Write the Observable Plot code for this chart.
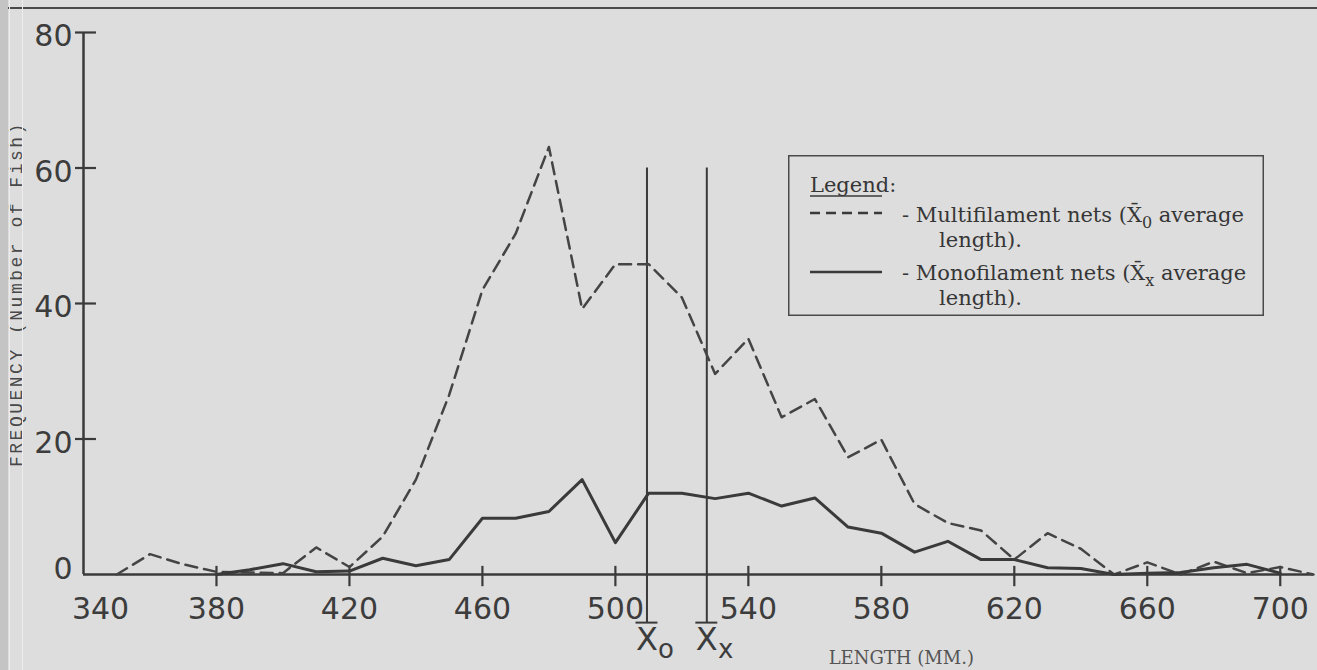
<!DOCTYPE html>
<html><head><meta charset="utf-8">
<script src="https://cdn.jsdelivr.net/npm/d3@7"></script>
<script src="https://cdn.jsdelivr.net/npm/@observablehq/plot@0.6"></script>
<style>
html,body{margin:0;padding:0;background:#dddddd;}
#wrap{position:relative;width:1317px;height:670px;overflow:hidden;background:#dddddd;}
#chart{position:absolute;left:0;top:0;}
#topRule{position:absolute;left:8px;top:7px;width:1309px;height:2px;background:#4a4a4a;}
#edge{position:absolute;left:0;top:0;width:8px;height:670px;background:#c4c4c4;}
#edgeLine1{position:absolute;left:9px;top:0;width:1px;height:670px;background:#ececec;}
#edgeLine2{position:absolute;left:22px;top:0;width:1px;height:670px;background:#ececec;}
#ylab{position:absolute;left:21px;top:467px;transform-origin:0 0;transform:rotate(-90deg);
  font-family:"Liberation Mono",monospace;font-size:18px;letter-spacing:2.5px;color:#484848;white-space:nowrap;line-height:1;}
#legend{position:absolute;left:788px;top:155px;}
</style></head>
<body><div id="wrap">
<div id="chart"></div>
<div id="topRule"></div>
<div id="ylab"><span style="position:relative;top:-13px">FREQUENCY (Number of Fish)</span></div>
<div id="edge"></div><div id="edgeLine1"></div><div id="edgeLine2"></div>
<svg id="legend" width="476" height="161" font-family="DejaVu Serif" font-size="21" fill="#363636">
  <rect x="0.75" y="0.75" width="474.5" height="159.5" fill="none" stroke="#4a4a4a" stroke-width="1.5"/>
  <text x="22" y="37">Legend:</text>
  <line x1="22" x2="94" y1="41" y2="41" stroke="#3a3a3a" stroke-width="1.3"/>
  <line x1="22" x2="94" y1="58" y2="58" stroke="#3a3a3a" stroke-width="2.5" stroke-dasharray="10,6"/>
  <text x="114" y="67">- Multifilament nets (X&#772;<tspan dy="6" font-size="16">0</tspan><tspan dy="-6"> average</tspan></text>
  <text x="151" y="92">length).</text>
  <line x1="22" x2="94" y1="117" y2="117" stroke="#3a3a3a" stroke-width="2.5"/>
  <text x="114" y="125">- Monofilament nets (X&#772;<tspan dy="6" font-size="16">x</tspan><tspan dy="-6"> average</tspan></text>
  <text x="151" y="150">length).</text>
</svg>
</div>
<script>
// Multifilament nets (dashed)
const multiLengths = [350,360,370,380,390,400,410,420,430,440,450,460,470,480,490,500,510,520,530,540,550,560,570,580,590,600,610,620,630,640,650,660,670,680,690,700,710];
const multiFreq    = [0,3.0,1.5,0.4,0.3,0.2,4.0,1.1,5.6,14,26.5,42,50.3,63.1,39.2,45.8,45.8,40.9,29.6,34.8,23.2,25.9,17.3,19.9,10.4,7.6,6.5,2.2,6.1,3.8,0,1.8,0,1.9,0.2,1.1,0];
// Monofilament nets (solid)
const monoLengths = [380,390,400,410,420,430,440,450,460,470,480,490,500,510,520,530,540,550,560,570,580,590,600,610,620,630,640,650,660,670,680,690,700];
const monoFreq    = [0,0.7,1.6,0.4,0.5,2.4,1.3,2.2,8.3,8.3,9.3,14.0,4.7,12.0,12.0,11.2,12.0,10.1,11.3,7.0,6.1,3.3,4.9,2.2,2.2,1.0,0.9,0,0.2,0.3,1.0,1.5,0.2];
// Average lengths
const meanValues = [509.5, 527.5];
const meanSubs   = ["o", "x"];
// Ticks
const xTicks = [380,420,460,500,540,580,620,660,700];
const xFirstTick = [340];
const yTicks = [20,40,60,80];
const yZero = [0];
const xTitle = ["LENGTH (MM.)"];

const ink = "#3a3a3a";
const chart = Plot.plot({
  width: 1317, height: 670,
  marginTop: 32, marginBottom: 96, marginLeft: 83, marginRight: 4,
  x: {domain: [340, 710]},
  y: {domain: [0, 80]},
  style: {fontFamily: "DejaVu Sans", fontSize: "30px", color: "#3c3c3c", background: "transparent", overflow: "visible"},
  marks: [
    // axes lines
    Plot.ruleX([340], {y1: 0, y2: 80, stroke: ink, strokeWidth: 2.5}),
    Plot.ruleY([0], {stroke: ink, strokeWidth: 2.5}),
    // crossing ticks
    Plot.ruleX(xTicks, {x: d => d, y1: -1.8, y2: 1.2, stroke: ink, strokeWidth: 2.2}),
    Plot.ruleY(yTicks, {y: d => d, x1: 337.6, x2: 343.9, stroke: ink, strokeWidth: 2.2}),
    // tick labels
    Plot.axisX(xTicks, {tickSize: 0, tickPadding: 23, label: null, fontSize: 30}),
    Plot.axisX(xFirstTick, {tickSize: 0, tickPadding: 23, label: null, fontSize: 30, dx: 17}),
    Plot.axisY(yTicks, {tickSize: 0, tickPadding: 11, label: null, fontSize: 30, dy: 4}),
    Plot.axisY(yZero, {tickSize: 0, tickPadding: 11, label: null, fontSize: 30, dy: -5}),
    // average length markers
    Plot.ruleX(meanValues, {x: d => d, y1: -7.1, y2: 60, stroke: ink, strokeWidth: 2}),
    Plot.ruleY(meanValues, {y: -7.1, x1: d => d - 3.3, x2: d => d + 3.3, stroke: ink, strokeWidth: 2}),
    Plot.text(meanValues, {x: d => d, y: -9.6, text: () => "X", fontSize: 32, fill: "#3c3c3c"}),
    Plot.text(meanValues, {x: d => d, y: -9.6, text: (d, i) => meanSubs[i], fontSize: 26, dx: 19, dy: 10, fill: "#3c3c3c"}),
    // data
    Plot.line(multiFreq, {x: multiLengths, y: multiFreq, stroke: "#444", strokeWidth: 2.5, strokeDasharray: "12,7", curve: "linear"}),
    Plot.line(monoFreq, {x: monoLengths, y: monoFreq, stroke: ink, strokeWidth: 3, curve: "linear"}),
    // x title
    Plot.text(xTitle, {x: 586, y: -12.3, fontFamily: "DejaVu Serif", fontSize: 18, letterSpacing: 1.8, fill: "#555"})
  ]
});
document.getElementById("chart").appendChild(chart);
</script>
</body></html>
